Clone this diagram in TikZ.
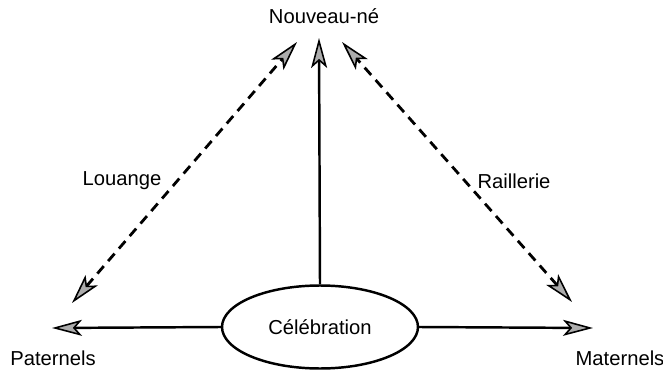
\documentclass[tikz,border=0pt]{standalone}
\usepackage{fontspec}
\setmainfont{Liberation Sans}
\usepackage{tikz}
\usetikzlibrary{arrows.meta, shapes.geometric}

\tikzset{
    pointe/.tip={Stealth[length=6mm, width=3.2mm, inset=1.4mm, fill=gray!65, line width=0.9pt]},
    fleche/.style={line width=1.4pt, -pointe},
    double fleche/.style={line width=1.6pt, pointe-pointe, dash pattern=on 5.6pt off 3.8pt},
}

\begin{document}
\begin{tikzpicture}[x=0.02cm, y=-0.02cm,
    every node/.style={font=\fontsize{11.5}{13}\selectfont}]
    \useasboundingbox (0,0) rectangle (663,372);

    % nodes
    \node (nouveau) at (324,16) {Nouveau-né};
    \node[ellipse, draw, line width=1.4pt, inner sep=0pt,
          minimum width=3.92cm, minimum height=1.66cm] (celeb) at (320,327) {Célébration};
    \node (pat) at (53,358) {Paternels};
    \node (mat) at (620,358) {Maternels};
    \node (louange) at (122,181) {Louange};
    \node (raill) at (514,181) {Raillerie};

    % arrow ends
    \coordinate (haut) at (319,38);
    \coordinate (hautg) at (297,42);
    \coordinate (hautd) at (342,42);
    \coordinate (basg) at (72,303);
    \coordinate (basd) at (572,302);
    \coordinate (gauche) at (52,328);
    \coordinate (droite) at (593,328);

    % connectors
    \draw[fleche] (celeb.north) -- (haut);
    \draw[fleche] (celeb.west) -- (gauche);
    \draw[fleche] (celeb.east) -- (droite);
    \draw[double fleche] (basg) -- (hautg);
    \draw[double fleche] (basd) -- (hautd);
\end{tikzpicture}
\end{document}
